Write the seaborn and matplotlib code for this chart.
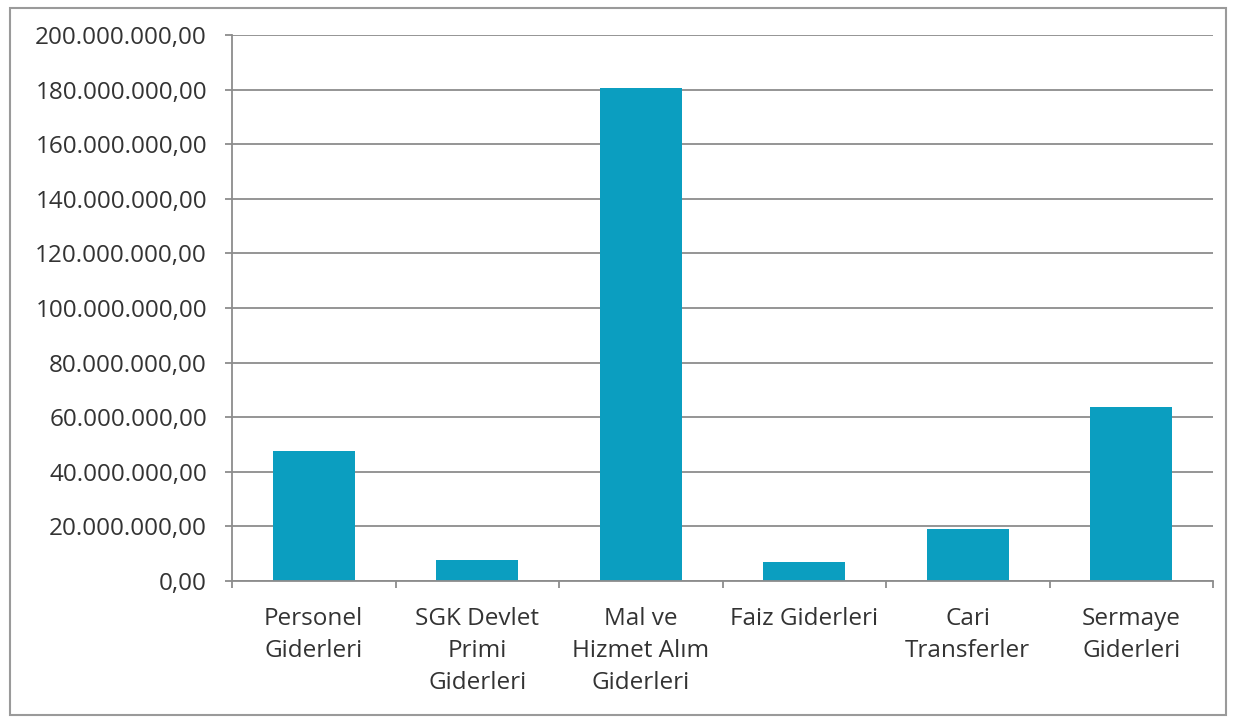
"""
plot.py - Bar chart of expenditure by economic classification.
"""

import matplotlib
matplotlib.use("Agg")
import matplotlib.pyplot as plt
import matplotlib.ticker as mticker
from matplotlib.patches import Rectangle
import pandas as pd
import seaborn as sns

# Data
categories = [
    "Personel\nGiderleri",
    "SGK Devlet\nPrimi\nGiderleri",
    "Mal ve\nHizmet Alım\nGiderleri",
    "Faiz Giderleri",
    "Cari\nTransferler",
    "Sermaye\nGiderleri",
]
values = [47_500_000, 7_800_000, 180_500_000, 7_000_000, 18_900_000, 63_800_000]
y_ticks = list(range(0, 200_000_001, 20_000_000))


def tr_format(v, _pos=None):
    s = f"{v:,.2f}"
    return s.replace(",", "X").replace(".", ",").replace("X", ".")


def main() -> None:
    sns.set_style("white")
    plt.rcParams["font.family"] = ["Open Sans", "DejaVu Sans"]

    df = pd.DataFrame({"category": categories, "value": values})

    fig = plt.figure(figsize=(12.36, 7.23), dpi=100)
    ax = fig.add_axes([232 / 1236, 1 - 581 / 723, (1213 - 232) / 1236, (581 - 35) / 723])

    sns.barplot(data=df, x="category", y="value", color="#0B9EC0",
                saturation=1, width=0.5, linewidth=0, ax=ax)

    ax.set_ylim(0, 200_000_000)
    ax.set_xlim(-0.5, len(categories) - 0.5)
    ax.set_yticks(y_ticks)
    ax.yaxis.set_major_formatter(mticker.FuncFormatter(tr_format))
    ax.yaxis.grid(True, color="#8c8c8c", linewidth=1.3)
    ax.set_axisbelow(True)
    ax.set_xlabel("")
    ax.set_ylabel("")

    for side in ("top", "right"):
        ax.spines[side].set_visible(False)
    for side in ("left", "bottom"):
        ax.spines[side].set_color("#8c8c8c")
        ax.spines[side].set_linewidth(1.3)

    ax.tick_params(axis="y", left=True, length=5, width=1.3, color="#8c8c8c",
                   labelsize=17.5, labelcolor="#333333", pad=13)
    ax.tick_params(axis="x", which="major", length=0, labelsize=17.5,
                   labelcolor="#333333", pad=19)
    ax.set_xticks([i + 0.5 for i in range(-1, len(categories))], minor=True)
    ax.tick_params(axis="x", which="minor", bottom=True, length=5, width=1.3,
                   color="#8c8c8c")
    for lbl in ax.get_xticklabels():
        lbl.set_linespacing(1.44)
        lbl.set_verticalalignment("top")

    fig.patches.append(Rectangle((10 / 1236, 1 - 715 / 723), 1216 / 1236, 707 / 723,
                                 transform=fig.transFigure, fill=False,
                                 edgecolor="#9a9a9a", linewidth=1.5))

    fig.savefig("out.png", dpi=100)


if __name__ == "__main__":
    main()
